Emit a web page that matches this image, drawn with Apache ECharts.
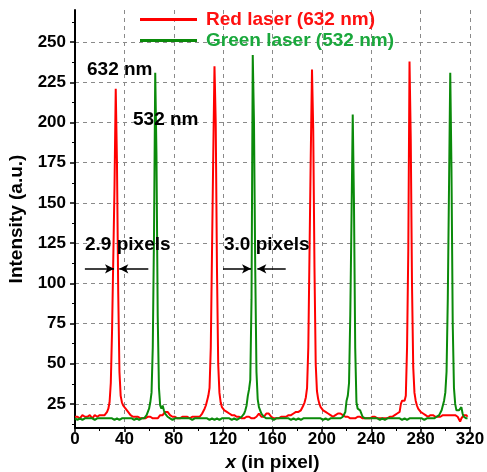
<!DOCTYPE html>
<html>
<head>
<meta charset="utf-8">
<script src="https://cdn.jsdelivr.net/npm/echarts@6/dist/echarts.min.js"></script>
<style>html,body{margin:0;padding:0;background:#fff}#c{width:487px;height:472px}</style>
</head>
<body>
<div id="c"></div>
<script>
// Intensity per pixel index (x = 0 .. 318)
var redLaser = [
  17,16,17,17,16,17,18,17,17,16,17,17,18,17,16,17,18,19,17,17,
  18,17,18,19,18,19,20,22,26,38,70,115,160,221,175,95,45,30,26,24,
  23,22,21,20,19,18,17,17,16,17,16,17,16,16,17,16,15,16,16,17,
  16,17,16,16,15,16,17,16,17,18,17,18,19,20,21,20,19,18,17,17,
  16,17,16,16,17,16,16,17,16,17,16,17,17,16,17,17,16,17,18,17,
  18,17,18,19,20,22,24,27,30,35,60,120,180,235,200,110,50,32,26,23,
  22,21,20,20,19,19,18,18,17,18,17,17,16,17,16,16,17,16,16,17,
  16,17,16,16,17,16,17,17,18,19,18,17,18,17,18,19,20,19,18,17,
  17,16,17,16,17,16,17,17,16,17,16,17,17,18,17,18,18,19,19,20,
  19,20,20,21,22,24,26,29,35,60,120,180,233,195,110,50,33,28,25,23,
  22,21,21,20,20,19,19,18,18,17,18,18,19,19,20,19,19,18,18,17,
  18,17,17,16,17,16,17,16,16,17,16,17,16,16,17,16,17,16,17,16,
  16,17,16,17,16,16,17,16,17,16,17,16,17,16,17,17,16,17,18,18,
  18,19,19,20,25,27,28,27,30,60,120,238,190,100,48,32,27,24,22,21,
  20,20,19,19,18,18,17,17,18,17,18,17,17,18,17,18,17,17,18,17,
  18,17,18,17,18,17,18,17,18,17,17,16,14,16,17,18,17,18,17
];
var greenLaser = [
  16,16,15,16,16,16,15,16,16,16,16,15,16,16,16,16,15,16,16,16,
  16,15,16,16,16,15,16,16,16,15,16,16,15,16,16,16,15,16,16,16,
  16,15,16,16,16,15,16,16,15,16,16,16,15,16,16,16,16,17,18,19,
  22,26,32,60,130,231,180,80,35,24,22,24,21,19,18,17,16,16,16,15,
  16,16,15,16,16,16,15,16,16,16,15,16,16,16,16,15,16,16,16,16,
  15,16,16,16,15,16,16,16,16,15,16,16,16,15,16,16,16,15,16,16,
  16,16,15,16,16,16,16,15,16,16,16,15,16,16,17,17,18,19,21,24,
  30,34,40,90,242,200,110,45,28,23,21,19,18,17,16,16,15,16,16,16,
  16,15,16,16,16,16,15,16,16,16,15,16,16,16,16,15,16,16,16,15,
  16,16,16,15,16,16,16,16,15,16,16,16,15,16,16,16,15,16,16,16,
  16,15,16,16,16,15,16,16,16,16,15,16,16,16,15,16,16,17,18,20,
  27,30,38,80,140,205,150,60,26,22,23,21,19,17,16,16,15,16,16,16,
  16,16,15,16,16,16,16,15,16,16,16,15,16,16,16,16,15,16,16,16,
  15,16,16,16,16,15,16,16,16,15,16,16,16,16,15,16,16,16,15,16,
  16,16,16,15,16,16,16,16,15,16,16,16,16,17,17,18,19,21,24,27,
  32,45,90,160,231,170,75,35,25,21,20,21,22,23,19,17,16,16,16
];
var yTickValues = [25,50,75,100,125,150,175,200,225,250];
var yMinorValues = [12.5,37.5,62.5,87.5,112.5,137.5,162.5,187.5,212.5,237.5,262.5];
var seriesNames = ['Red laser (632 nm)','Green laser (532 nm)'];
// FWHM arrow annotations: [fromX, toX, y]
var arrows = [[8,31.6,109],[59.4,35.9,109],[119.9,142.6,109],[170.7,147.7,109]];

function toPairs(arr){ return arr.map(function(v,i){ return [i,v]; }); }

var FONT = '"Liberation Sans", Arial, sans-serif';
var chart = echarts.init(document.getElementById('c'));
var option = {
  animation: false,
  grid: {left: 75, right: 17, top: 10, bottom: 44, containLabel: false, outerBoundsMode: 'none'},
  legend: {
    orient: 'vertical', left: 135, top: 5, itemGap: 2, padding: 5,
    itemWidth: 57, itemHeight: 19, icon: 'path://M0,8L57,8L57,11L0,11Z',
    textStyle: {fontFamily: FONT, fontWeight: 'bold', fontSize: 19, padding: [0,0,0,4]},
    data: [
      {name: seriesNames[0], textStyle: {color: '#ff1010'}, itemStyle: {color: '#ff0000'}},
      {name: seriesNames[1], textStyle: {color: '#1aa83c'}, itemStyle: {color: '#0a8a0a'}}
    ]
  },
  xAxis: {
    type: 'value', min: 0, max: 320, interval: 40,
    name: '{i|x} (in pixel)', nameLocation: 'middle', nameGap: 25,
    nameTextStyle: {fontFamily: FONT, fontWeight: 'bold', fontSize: 19, color: '#000',
      rich: {i: {fontStyle: 'italic', fontWeight: 'bold', fontSize: 19, fontFamily: FONT, color: '#000'}}},
    axisLine: {show: true, onZero: false, lineStyle: {color: '#000', width: 2}},
    axisTick: {show: true, inside: false, length: 4, lineStyle: {color: '#000', width: 1.5}},
    minorTick: {show: true, splitNumber: 2, length: 3, lineStyle: {color: '#000', width: 1}},
    axisLabel: {fontFamily: FONT, fontWeight: 'bold', fontSize: 17, color: '#000', margin: 3},
    splitLine: {show: true, lineStyle: {color: '#8a8a8a', type: [4,4], width: 1}}
  },
  yAxis: [{
    type: 'value', min: 10, max: 270,
    name: 'Intensity (a.u.)', nameLocation: 'middle', nameGap: 47,
    nameTextStyle: {fontFamily: FONT, fontWeight: 'bold', fontSize: 19, color: '#000'},
    axisLine: {show: true, onZero: false, lineStyle: {color: '#000', width: 2}},
    axisTick: {show: true, inside: false, length: 5, customValues: yTickValues, lineStyle: {color: '#000', width: 1.5}},
    axisLabel: {fontFamily: FONT, fontWeight: 'bold', fontSize: 17, color: '#000', margin: 9, customValues: yTickValues},
    splitLine: {show: true, lineStyle: {color: '#8a8a8a', type: [4,4], width: 1}}
  }, {
    type: 'value', min: 10, max: 270, position: 'left',
    axisLine: {show: false},
    axisTick: {show: true, inside: false, length: 3, customValues: yMinorValues, lineStyle: {color: '#000', width: 1}},
    axisLabel: {show: false},
    splitLine: {show: false}
  }],
  series: [{
    name: seriesNames[0], type: 'line', data: toPairs(redLaser), showSymbol: false,
    lineStyle: {color: '#ff0000', width: 2}, itemStyle: {color: '#ff0000'}, z: 3,
    markLine: {
      silent: true, symbol: ['none','arrow'], symbolSize: [7,9],
      lineStyle: {color: '#000', width: 1.5, type: 'solid'}, label: {show: false},
      data: arrows.map(function(a){ return [{coord: [a[0], a[2]]}, {coord: [a[1], a[2]]}]; })
    }
  }, {
    name: seriesNames[1], type: 'line', data: toPairs(greenLaser), showSymbol: false,
    lineStyle: {color: '#0a8a0a', width: 2}, itemStyle: {color: '#0a8a0a'}, z: 4
  }],
  graphic: [
    {type: 'text', left: 87, top: 60, z: 10, style: {text: '632 nm', font: 'bold 19px ' + FONT, fill: '#000'}},
    {type: 'text', left: 133, top: 110, z: 10, style: {text: '532 nm', font: 'bold 19px ' + FONT, fill: '#000'}},
    {type: 'text', left: 85, top: 235, z: 10, style: {text: '2.9 pixels', font: 'bold 19px ' + FONT, fill: '#000'}},
    {type: 'text', left: 224, top: 235, z: 10, style: {text: '3.0 pixels', font: 'bold 19px ' + FONT, fill: '#000'}}
  ]
};
chart.setOption(option);
</script>
</body>
</html>
